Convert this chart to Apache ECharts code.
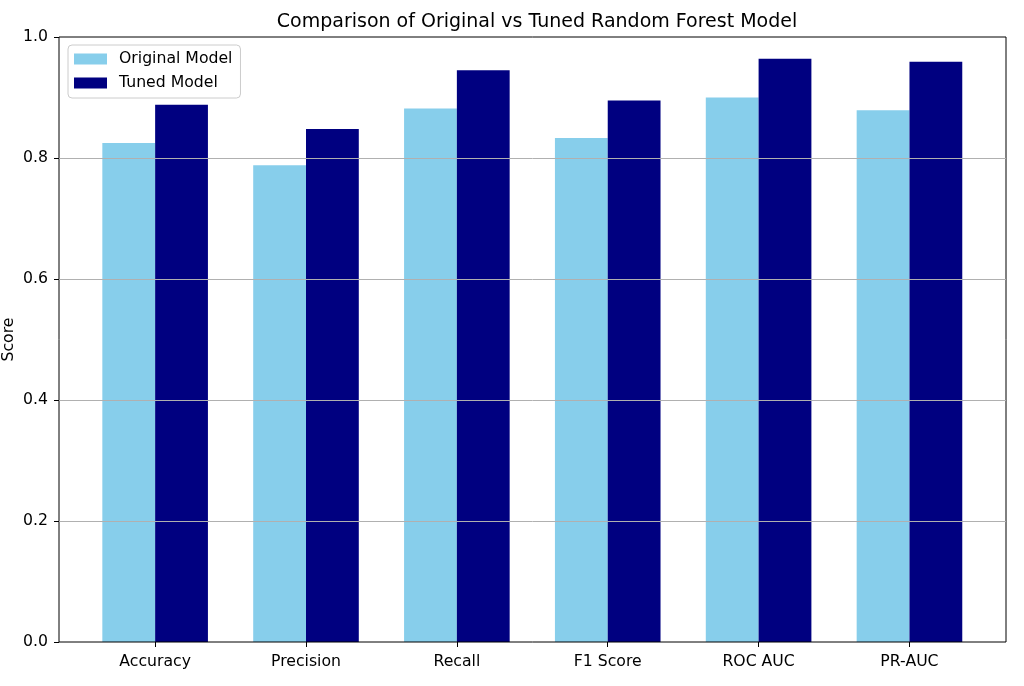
<!DOCTYPE html>
<html><head><meta charset="utf-8">
<script src="https://cdn.jsdelivr.net/npm/echarts@6/dist/echarts.min.js"></script>
<style>html,body{margin:0;padding:0;background:#fff}#c{width:1024px;height:686px}</style>
</head><body><div id="c"></div>
<script>
const categories = ['Accuracy','Precision','Recall','F1 Score','ROC AUC','PR-AUC'];
const originalScores = [0.825, 0.788, 0.882, 0.833, 0.900, 0.879];
const tunedScores = [0.888, 0.848, 0.945, 0.895, 0.964, 0.959];
const yTicks = [0, 0.2, 0.4, 0.6, 0.8, 1.0];

const F = 'DejaVu Sans';
const FS = 15.7;
const chart = echarts.init(document.getElementById('c'), null, {renderer:'canvas'});
chart.setOption({
  animation: false,
  backgroundColor: '#fff',
  title: {
    text: 'Comparison of Original vs Tuned Random Forest Model',
    left: 532, top: 8, textAlign: 'center',
    textStyle: {fontFamily: F, fontSize: 19, fontWeight: 'normal', color: '#000'}
  },
  legend: {
    orient: 'vertical', left: 68, top: 45,
    itemWidth: 33, itemHeight: 11, itemGap: 6,
    padding: [5, 8, 6, 6],
    borderColor: '#cccccc', borderWidth: 1, borderRadius: 4,
    backgroundColor: 'rgba(255,255,255,0.8)',
    icon: 'rect',
    textStyle: {fontFamily: F, fontSize: FS, color: '#000', lineHeight: 18, padding: [0,0,0,7]},
    data: ['Original Model', 'Tuned Model']
  },
  grid: [
    {left: 79.7, right: 39.1, top: 37, bottom: 44, containLabel: false, outerBoundsMode: 'none'},
    {left: 59, right: 18, top: 37, bottom: 44, containLabel: false, outerBoundsMode: 'none',
     show: true, borderColor: '#000', borderWidth: 1, backgroundColor: 'transparent', z: 5}
  ],
  xAxis: [
    {type: 'category', gridIndex: 0, data: categories,
     axisLine: {show: false},
     axisTick: {show: true, alignWithLabel: true, length: 5, lineStyle: {color: '#000'}},
     axisLabel: {fontFamily: F, fontSize: FS, color: '#000', margin: 12}},
    {type: 'value', gridIndex: 1, show: false, min: 0, max: 1}
  ],
  yAxis: [
    {type: 'value', gridIndex: 0, min: 0, max: 1, show: false},
    {type: 'value', gridIndex: 1, min: 0, max: 1, interval: 0.2, z: 10,
     name: 'Score', nameLocation: 'middle', nameGap: 42, nameMoveOverlap: false,
     nameTextStyle: {fontFamily: F, fontSize: FS, color: '#000'},
     axisLine: {show: false},
     axisTick: {show: true, length: 5, lineStyle: {color: '#000'}},
     axisLabel: {fontFamily: F, fontSize: FS, color: '#000', margin: 11,
       formatter: v => { const t = yTicks.find(x => Math.abs(x - v) < 1e-6); return (t === undefined ? v : t).toFixed(1); }},
     splitLine: {show: true, showMinLine: false, showMaxLine: false, lineStyle: {color: '#b0b0b0', width: 1}}}
  ],
  series: [
    {name: 'Original Model', type: 'bar', xAxisIndex: 0, yAxisIndex: 0, data: originalScores,
     barWidth: 52.8, barGap: '0%', itemStyle: {color: '#87CEEB'}},
    {name: 'Tuned Model', type: 'bar', xAxisIndex: 0, yAxisIndex: 0, data: tunedScores,
     barWidth: 52.8, barGap: '0%', itemStyle: {color: '#000080'}}
  ]
});
</script></body></html>
